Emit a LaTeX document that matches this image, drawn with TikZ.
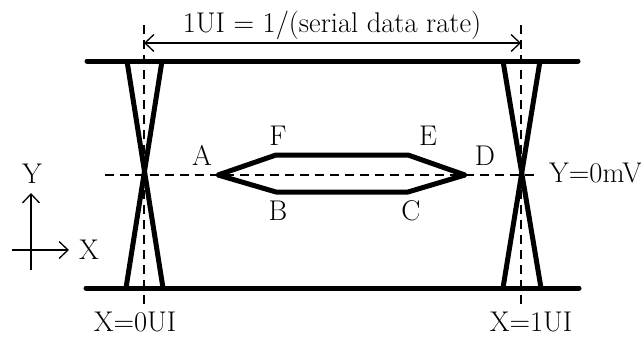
\documentclass[tikz,border=0pt]{standalone}
\usepackage{fontspec}
\usetikzlibrary{arrows.meta}
\begin{document}
\begin{tikzpicture}[x=1pt,y=-1pt,
  font=\fontsize{28.5}{34}\selectfont,
  thickline/.style={line width=5pt,line cap=round},
  crossline/.style={line width=5pt,line cap=butt},
  eyeline/.style={line width=5pt,line join=round},
  dashline/.style={line width=1.3pt,dash pattern=on 9pt off 6pt},
  thinarrow/.style={line width=1.3pt,{Straight Barb[length=9pt,width=17pt]}-{Straight Barb[length=9pt,width=17pt]}},
  axisarrow/.style={line width=1.3pt,-{Straight Barb[length=9pt,width=17pt]}},
  lbl/.style={inner sep=0pt,anchor=base}]
\path[use as bounding box] (0,0) rectangle (641,338);
% rails
\coordinate (TL) at (87,61);
\coordinate (TR) at (578,61);
\coordinate (BL) at (86,288);
\coordinate (BR) at (579,288);
\draw[thickline] (TL) -- (TR);
\draw[thickline] (BL) -- (BR);
% crossings
\coordinate (L1a) at (127,61);
\coordinate (L1b) at (163,288);
\coordinate (L2a) at (162,61);
\coordinate (L2b) at (126,288);
\coordinate (R1a) at (503,61);
\coordinate (R1b) at (541,288);
\coordinate (R2a) at (540,61);
\coordinate (R2b) at (503,288);
\draw[crossline] (L1a) -- (L1b);
\draw[crossline] (L2a) -- (L2b);
\draw[crossline] (R1a) -- (R1b);
\draw[crossline] (R2a) -- (R2b);
% dashed lines
\coordinate (VL1) at (144,25);
\coordinate (VL2) at (144,308);
\coordinate (VR1) at (521,25);
\coordinate (VR2) at (521,308);
\coordinate (H1) at (105,175);
\coordinate (H2) at (534,175);
\draw[dashline] (VL1) -- (VL2);
\draw[dashline] (VR1) -- (VR2);
\draw[dashline] (H1) -- (H2);
% eye polygon
\coordinate (pA) at (218,175);
\coordinate (pF) at (276,155);
\coordinate (pE) at (408,155);
\coordinate (pD) at (465,175);
\coordinate (pC) at (408,192);
\coordinate (pB) at (276,192);
\draw[eyeline] (pA) -- (pF) -- (pE) -- (pD) -- (pC) -- (pB) -- cycle;
% dimension arrow
\coordinate (DL) at (144,43);
\coordinate (DR) at (521,43);
\draw[thinarrow] (DL) -- (DR);
\node[lbl] (title) at (332,32) {1UI = 1/(serial data rate)};
% axes
\coordinate (AY0) at (31,270);
\coordinate (AY) at (31,193);
\coordinate (AX0) at (12,250);
\coordinate (AX) at (69,250);
\draw[axisarrow] (AY0) -- (AY);
\draw[axisarrow] (AX0) -- (AX);
\node[lbl] (ylab) at (32,183) {Y};
\node[lbl] (xlab) at (89,259) {X};
% labels
\node[lbl] (la) at (202,165) {A};
\node[lbl] (lf) at (278,145) {F};
\node[lbl] (le) at (428,145) {E};
\node[lbl] (ld) at (485,165) {D};
\node[lbl] (lb) at (278,220) {B};
\node[lbl] (lc) at (411,220) {C};
\node[lbl,anchor=base west] (y0) at (549,182) {Y=0mV};
\node[lbl] (x0) at (135,331) {X=0UI};
\node[lbl] (x1) at (531,331) {X=1UI};
\end{tikzpicture}
\end{document}
